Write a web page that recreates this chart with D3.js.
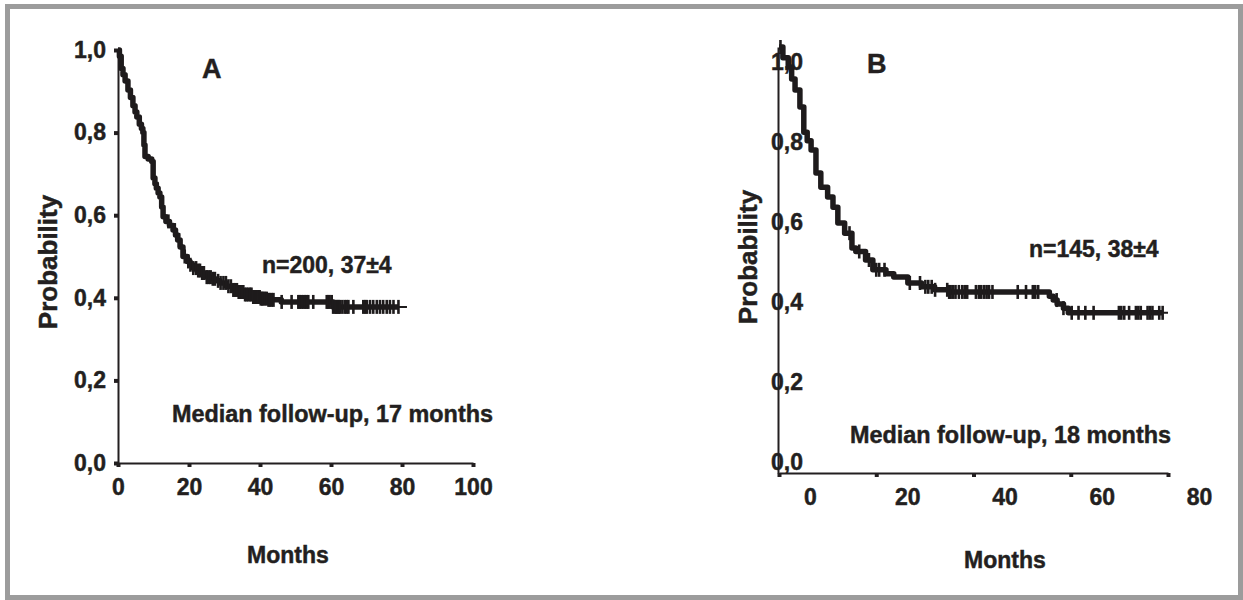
<!DOCTYPE html>
<html>
<head>
<meta charset="utf-8">
<script src="https://cdn.jsdelivr.net/npm/d3@7"></script>
<style>
  html, body { margin: 0; padding: 0; background: #fff; }
  svg { display: block; }
  text { font-family: "Liberation Sans", Arial, sans-serif; font-weight: bold; fill: #231f20; stroke: #231f20; stroke-width: 0.45px; }
</style>
</head>
<body>
<svg id="km" width="1243" height="600"></svg>
<script>
"use strict";

//////////////////////////////////////////////////////////// DATA
// Kaplan-Meier steps [month, probability]
const stepsA = [
  [0, 1.0], [0.4, 0.985], [0.9, 0.955], [1.4, 0.94], [2.0, 0.925], [2.8, 0.903],
  [3.5, 0.885], [4.2, 0.865], [4.8, 0.85], [5.3, 0.838], [6.0, 0.82], [6.6, 0.81],
  [7.0, 0.8], [7.3, 0.77], [7.6, 0.742], [8.5, 0.736], [9.5, 0.73], [9.9, 0.69],
  [10.4, 0.676], [10.8, 0.665], [11.3, 0.654], [11.8, 0.644], [12.3, 0.62], [12.7, 0.596],
  [13.5, 0.585], [14.5, 0.575], [15.5, 0.564], [16.2, 0.552], [16.8, 0.54], [17.5, 0.523],
  [18.3, 0.5], [19.5, 0.488], [20.3, 0.48], [21.1, 0.472], [22.2, 0.466], [23.4, 0.46],
  [25.0, 0.45], [26.2, 0.446], [27.4, 0.441], [28.7, 0.436], [30.5, 0.428], [32.4, 0.419],
  [34.0, 0.414], [35.6, 0.408], [38.0, 0.402], [40.2, 0.398], [42.0, 0.395], [46.0, 0.39],
  [60.6, 0.378]
];
const endA = 81.4;

// censored patients (tick marks), months
const censorA = [
  14.2, 16.0, 17.2, 18.8, 19.8, 20.4, 21.2, 22.0, 22.6, 23.1, 23.7, 24.2, 25.0, 25.6,
  26.1, 26.7, 27.3, 28.2, 28.9, 29.7, 30.4, 31.1, 31.8, 32.5, 33.0, 33.5, 34.0, 34.4,
  34.9, 35.3, 35.8, 36.2, 36.7, 37.2, 37.6, 38.1, 38.5, 38.8, 39.2, 39.5, 39.9, 40.2,
  40.6, 40.9, 41.4, 41.9, 42.4, 42.8, 43.3, 43.8, 46.1, 48.9, 50.8, 51.2, 51.7, 52.2,
  52.7, 53.1, 53.6, 55.0, 58.8, 59.2, 59.6, 60.2, 60.6, 61.1, 61.5, 61.8, 62.2, 62.5,
  63.2, 63.9, 64.4, 64.9, 66.3, 69.1, 69.6, 70.1, 71.0, 71.9, 72.9, 73.8, 74.7, 75.7,
  76.6, 77.6, 79.0
];

const stepsB = [
  [0, 1.0], [0.8, 0.975], [1.9, 0.953], [2.6, 0.925], [3.3, 0.899], [4.3, 0.859],
  [5.1, 0.8], [5.8, 0.78], [6.6, 0.758], [7.6, 0.704], [8.6, 0.671], [10.0, 0.648],
  [11.1, 0.624], [12.1, 0.587], [13.5, 0.563], [15.0, 0.528], [15.8, 0.52], [17.8, 0.5],
  [19.3, 0.477], [22.0, 0.468], [23.6, 0.46], [26.5, 0.446], [29.3, 0.437], [32.0, 0.43],
  [34.9, 0.425], [55.6, 0.415], [56.4, 0.406], [57.2, 0.397], [58.5, 0.387], [59.5, 0.376]
];
const endB = 80;

const censorB = [
  0.3, 14.5, 16.5, 18.5, 20.0, 20.6, 21.7, 26.9, 29.0, 30.1, 30.7, 31.4, 32.1, 34.6,
  35.0, 35.3, 35.8, 36.3, 37.0, 37.7, 38.2, 38.7, 40.5, 41.1, 41.6, 42.2, 42.7, 43.2,
  43.9, 49.1, 50.8, 52.2, 52.7, 53.3, 57.1, 58.5, 60.2, 61.6, 63.0, 64.7, 69.9, 70.4,
  71.0, 72.0, 73.4, 73.9, 74.4, 75.8, 76.3, 76.8, 78.2, 78.9
];

// Axis ticks
const ticksXA = [0, 20, 40, 60, 80, 100];
const ticksXB = [0, 20, 40, 60, 80];
const ticksY = [0, 0.2, 0.4, 0.6, 0.8, 1.0];

//////////////////////////////////////////////////////////// SCALES
const xA = d3.scaleLinear().domain([0, 100]).range([118, 473]);
const yA = d3.scaleLinear().domain([0, 1]).range([463, 50]);

const xB = d3.scaleLinear().domain([0, 80]).range([779, 1168]);
const yB = d3.scaleLinear().domain([0, 1]).range([473, 47]);
// the printed labels of B sit on their own grid
const yLabB = d3.scaleLinear().domain([0, 1]).range([462, 62]);

const fmtY = (d) => d3.format(".1f")(d).replace(".", ",");

const svg = d3.select("#km");

// Marco gris
svg
  .append("rect")
  .attr("x", 7.5)
  .attr("y", 6.5)
  .attr("width", 1233)
  .attr("height", 591)
  .attr("fill", "#fff")
  .attr("stroke", "#9c9c9c")
  .attr("stroke-width", 5);

//////////////////////////////////////////////////////////// HELPERS
const styleAxis = (g, size) => {
  g.attr("font-size", size).attr("font-family", null);
  g.select(".domain").attr("stroke", "#231f20").attr("stroke-width", 2);
  g.selectAll(".tick line").attr("stroke", "#231f20").attr("stroke-width", 4);
  g.selectAll(".tick text").attr("fill", "#231f20");
};

const survAt = (steps, t) => steps[d3.bisector((d) => d[0]).right(steps, t) - 1][1];

const drawCurve = (steps, censors, end, x, y) => {
  const line = d3
    .line()
    .x((d) => x(d[0]))
    .y((d) => y(d[1]))
    .curve(d3.curveStepAfter);

  const last = steps[steps.length - 1][1];
  const lastCensor = d3.max(censors);

  // thin tail to the end of follow-up
  svg
    .append("path")
    .datum(steps.concat([[end, last]]))
    .attr("fill", "none")
    .attr("stroke", "#1e1b1c")
    .attr("stroke-width", 2)
    .attr("d", line);

  // thick body of the curve
  svg
    .append("path")
    .datum(steps.concat([[lastCensor, survAt(steps, lastCensor)]]))
    .attr("fill", "none")
    .attr("stroke", "#1e1b1c")
    .attr("stroke-width", 5.5)
    .attr("stroke-linejoin", "round")
    .attr("d", line);

  // censor marks
  svg
    .append("g")
    .selectAll("line")
    .data(censors)
    .join("line")
    .attr("x1", (d) => x(d))
    .attr("x2", (d) => x(d))
    .attr("y1", (d) => y(survAt(steps, d)) - 7)
    .attr("y2", (d) => y(survAt(steps, d)) + 7)
    .attr("stroke", "#1e1b1c")
    .attr("stroke-width", 2.6);
};

const label = (txt, x, y, size, anchor) =>
  svg
    .append("text")
    .attr("x", x)
    .attr("y", y)
    .attr("font-size", size)
    .attr("text-anchor", anchor || "start")
    .text(txt);

const yTitle = (x, y) =>
  svg
    .append("text")
    .attr("transform", `translate(${x},${y}) rotate(-90)`)
    .attr("font-size", 26)
    .attr("text-anchor", "middle")
    .text("Probability");

//////////////////////////////////////////////////////////// PANEL A
svg
  .append("g")
  .attr("transform", `translate(0,${yA(0)})`)
  .call(d3.axisBottom(xA).tickValues(ticksXA).tickSize(4).tickSizeOuter(0).tickPadding(12))
  .call((g) => styleAxis(g, 23));

svg
  .append("g")
  .attr("transform", `translate(${xA(0)},0)`)
  .call(d3.axisLeft(yA).tickValues(ticksY).tickFormat(fmtY).tickSize(4).tickSizeOuter(0).tickPadding(8))
  .call((g) => styleAxis(g, 23));

drawCurve(stepsA, censorA, endA, xA, yA);

label("A", 202, 78, 27);
label("n=200, 37±4", 262, 273, 23);
label("Median follow-up, 17 months", 172, 422, 23.4);
label("Months", 288, 563, 23, "middle");
yTitle(57, 262);

//////////////////////////////////////////////////////////// PANEL B
// printed labels of the y axis (drawn first, the axis line runs over them)
svg
  .append("g")
  .attr("transform", "translate(803,0)")
  .call(d3.axisLeft(yLabB).tickValues(ticksY).tickFormat(fmtY).tickSize(0).tickPadding(0))
  .call((g) => styleAxis(g, 23))
  .call((g) => g.select(".domain").remove());

svg
  .append("g")
  .attr("transform", `translate(${xB(0) - 1},0)`)
  .call(d3.axisLeft(yB).tickValues([]).tickSizeOuter(0))
  .call((g) => styleAxis(g, 23));

svg
  .append("g")
  .attr("transform", `translate(0,${yB(0)})`)
  .call(d3.axisBottom(xB).tickValues(ticksXB).tickSize(4).tickSizeOuter(0).tickPadding(12))
  .call((g) => styleAxis(g, 23))
  .call((g) => g.selectAll(".tick text").attr("dx", 31));

drawCurve(stepsB, censorB, endB, xB, yB);

label("B", 867, 73, 27);
label("n=145, 38±4", 1029, 257, 23);
label("Median follow-up, 18 months", 850, 443, 23.4);
label("Months", 1005, 568, 23, "middle");
yTitle(757, 257);
</script>
</body>
</html>
